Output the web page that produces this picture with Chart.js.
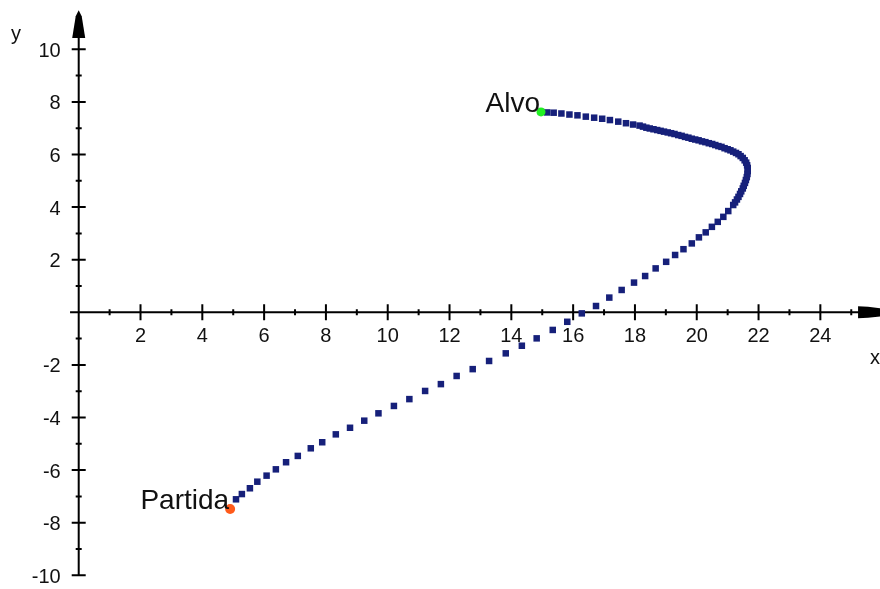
<!DOCTYPE html>
<html>
<head>
<meta charset="utf-8">
<script src="https://cdn.jsdelivr.net/npm/chart.js@4/dist/chart.umd.min.js"></script>
<style>
	html, body { margin: 0; padding: 0; background: #fff; overflow: hidden; }
	canvas { display: block; }
</style>
</head>
<body>
<canvas id="chart" width="880" height="589"></canvas>
<script>
// trajectory from Partida to Alvo
const pathX = [
	5.09, 5.28, 5.54, 5.78, 6.08, 6.38, 6.71, 7.09, 7.51,
	7.88, 8.32, 8.78, 9.24, 9.70, 10.20, 10.70, 11.21, 11.72, 12.23,
	12.75, 13.28, 13.82, 14.34, 14.82, 15.34, 15.81, 16.28, 16.74, 17.17,
	17.57, 17.97, 18.33, 18.67, 19.01, 19.30, 19.57, 19.84, 20.07, 20.29,
	20.49, 20.68, 20.86, 21.02, 21.18,
	21.24, 21.30, 21.35, 21.40, 21.44, 21.49, 21.52, 21.56, 21.59, 21.62,
	21.64, 21.65, 21.65, 21.63, 21.60, 21.55, 21.49, 21.42, 21.35, 21.27,
	21.18, 21.09, 21.00, 20.90, 20.80, 20.70, 20.60, 20.50, 20.39, 20.28,
	20.17, 20.06, 19.95, 19.84, 19.73, 19.62, 19.51, 19.40, 19.28, 19.17,
	19.06, 18.94, 18.83, 18.72, 18.60, 18.48, 18.37, 18.26,
	18.15, 17.94, 17.71, 17.46, 17.19, 16.94, 16.68, 16.41, 16.14, 15.88,
	15.62, 15.37, 15.16, 14.96
];
const pathY = [
	-7.11, -6.91, -6.69, -6.44, -6.21, -5.97, -5.70, -5.46, -5.17,
	-4.94, -4.64, -4.39, -4.12, -3.84, -3.56, -3.30, -2.99, -2.73, -2.42,
	-2.16, -1.85, -1.56, -1.27, -0.99, -0.67, -0.36, -0.04, 0.24, 0.56,
	0.85, 1.13, 1.38, 1.67, 1.92, 2.18, 2.40, 2.62, 2.85, 3.04,
	3.25, 3.44, 3.63, 3.85, 4.08,
	4.18, 4.29, 4.39, 4.50, 4.60, 4.71, 4.81, 4.92, 5.03, 5.14,
	5.26, 5.37, 5.49, 5.59, 5.69, 5.78, 5.87, 5.94, 6.01, 6.06,
	6.11, 6.16, 6.20, 6.24, 6.29, 6.32, 6.36, 6.40, 6.43, 6.47,
	6.50, 6.54, 6.57, 6.60, 6.64, 6.67, 6.71, 6.74, 6.78, 6.81,
	6.84, 6.87, 6.90, 6.93, 6.96, 6.99, 7.02, 7.06,
	7.10, 7.14, 7.19, 7.25, 7.31, 7.36, 7.40, 7.44, 7.49, 7.52,
	7.56, 7.59, 7.60, 7.62
];
const startPoint = { x: 4.90, y: -7.48 };
const endPoint = { x: 14.96, y: 7.62 };
const pointNames = ['Partida', 'Alvo'];

// axis ticks
const xMajorTicks = [2, 4, 6, 8, 10, 12, 14, 16, 18, 20, 22, 24];
const xMinorTicks = [1, 3, 5, 7, 9, 11, 13, 15, 17, 19, 21, 23, 25];
const yMajorTicks = [-10, -8, -6, -4, -2, 2, 4, 6, 8, 10];
const yMinorTicks = [-9, -7, -5, -3, -1, 1, 3, 5, 7, 9];

const tickFont = '20px "Liberation Sans", Arial, sans-serif';
const nameFont = '28px "Liberation Sans", Arial, sans-serif';

const axesPlugin = {
	id: 'axes',
	beforeDraw(chart) {
		let ctx = chart.ctx;
		ctx.save();
		ctx.fillStyle = '#fff';
		ctx.fillRect(0, 0, chart.width, chart.height);
		ctx.restore();
	},
	beforeDatasetsDraw(chart) {
		let ctx = chart.ctx;
		let sx = chart.scales.x, sy = chart.scales.y;
		let x0 = sx.getPixelForValue(0);
		let y0 = sy.getPixelForValue(0);

		ctx.save();
		ctx.strokeStyle = '#000';
		ctx.fillStyle = '#000';
		ctx.lineWidth = 2;

		// axis lines
		ctx.beginPath();
		ctx.moveTo(sx.getPixelForValue(-0.28), y0);
		ctx.lineTo(sx.getPixelForValue(25.3), y0);
		ctx.moveTo(x0, sy.getPixelForValue(-10));
		ctx.lineTo(x0, sy.getPixelForValue(10.5));
		ctx.stroke();

		// tick marks
		ctx.beginPath();
		for (let v of xMajorTicks) {
			let p = sx.getPixelForValue(v);
			ctx.moveTo(p, y0 - 8);
			ctx.lineTo(p, y0 + 8);
		}
		for (let v of xMinorTicks) {
			let p = sx.getPixelForValue(v);
			ctx.moveTo(p, y0 - 3);
			ctx.lineTo(p, y0 + 3);
		}
		for (let v of yMajorTicks) {
			let p = sy.getPixelForValue(v);
			ctx.moveTo(x0 - 7, p);
			ctx.lineTo(x0 + 7, p);
		}
		for (let v of yMinorTicks) {
			let p = sy.getPixelForValue(v);
			ctx.moveTo(x0 - 3, p);
			ctx.lineTo(x0 + 3, p);
		}
		ctx.stroke();

		// arrow heads
		let ax = sx.getPixelForValue(25.22);
		ctx.beginPath();
		ctx.moveTo(ax, y0 - 6);
		ctx.lineTo(ax + 10, y0 - 5.5);
		ctx.lineTo(ax + 60, y0);
		ctx.lineTo(ax + 10, y0 + 5.5);
		ctx.lineTo(ax, y0 + 6);
		ctx.closePath();
		ctx.fill();

		let ay = sy.getPixelForValue(10.43);
		let tip = sy.getPixelForValue(11.49);
		ctx.beginPath();
		ctx.moveTo(x0 - 6.5, ay);
		ctx.lineTo(x0 - 3, tip + 6);
		ctx.lineTo(x0, tip);
		ctx.lineTo(x0 + 3, tip + 6);
		ctx.lineTo(x0 + 6.5, ay);
		ctx.closePath();
		ctx.fill();

		// tick labels
		ctx.font = tickFont;
		ctx.fillStyle = '#111';
		ctx.textAlign = 'center';
		ctx.textBaseline = 'middle';
		for (let v of xMajorTicks) {
			ctx.fillText(String(v), sx.getPixelForValue(v), y0 + 24);
		}
		ctx.textAlign = 'right';
		for (let v of yMajorTicks) {
			ctx.fillText(String(v), x0 - 18, sy.getPixelForValue(v) + 2);
		}

		// axis names
		ctx.textAlign = 'center';
		ctx.fillText('x', 875, y0 + 46);
		ctx.fillText('y', 16, 34);
		ctx.restore();
	},
	afterDatasetsDraw(chart) {
		let ctx = chart.ctx;
		let sx = chart.scales.x, sy = chart.scales.y;
		let named = [startPoint, endPoint];
		ctx.save();
		ctx.font = nameFont;
		ctx.fillStyle = '#111';
		ctx.textAlign = 'right';
		ctx.textBaseline = 'alphabetic';
		named.forEach((pt, i) => {
			ctx.fillText(pointNames[i], sx.getPixelForValue(pt.x) - 1, sy.getPixelForValue(pt.y));
		});
		ctx.restore();
	}
};

new Chart(document.getElementById('chart'), {
	type: 'scatter',
	data: {
		datasets: [
			{
				label: 'trajetória',
				data: pathX.map((x, i) => ({ x: x, y: pathY[i] })),
				pointStyle: 'rect',
				pointRadius: 4.6,
				pointBackgroundColor: '#16207a',
				pointBorderWidth: 0,
				showLine: false,
				order: 3
			},
			{
				label: pointNames[0],
				data: [startPoint],
				pointStyle: 'circle',
				pointRadius: 5,
				pointBackgroundColor: '#ff5a1a',
				pointBorderWidth: 0,
				order: 1
			},
			{
				label: pointNames[1],
				data: [endPoint],
				pointStyle: 'circle',
				pointRadius: 4.5,
				pointBackgroundColor: '#22f022',
				pointBorderWidth: 0,
				order: 1
			}
		]
	},
	options: {
		responsive: false,
		animation: false,
		devicePixelRatio: 1,
		layout: { padding: 0, autoPadding: false },
		plugins: {
			legend: { display: false },
			tooltip: { enabled: false }
		},
		scales: {
			x: { type: 'linear', min: -2.547, max: 25.93, display: false },
			y: { type: 'linear', min: -10.52, max: 11.875, display: false }
		}
	},
	plugins: [axesPlugin]
});
</script>
</body>
</html>
